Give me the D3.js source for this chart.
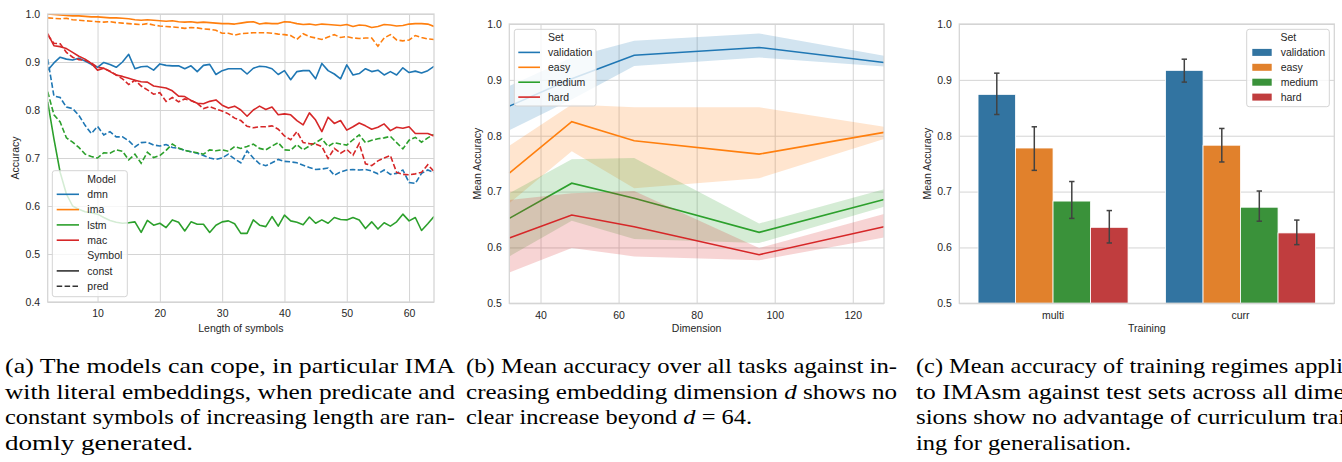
<!DOCTYPE html>
<html>
<head>
<meta charset="utf-8">
<script src="https://cdn.jsdelivr.net/npm/d3@7"></script>
<style>
  body { margin: 0; background: #fff; }
  svg { display: block; font-family: "Liberation Sans", Arial, sans-serif; }
  .tick text { fill: #262626; font-size: 10.5px; }
  .lab { fill: #262626; font-size: 10.5px; }
  .cap { font-family: "Liberation Serif", Tinos, "Times New Roman", Times, serif; font-size: 21.5px; fill: #000; }
</style>
</head>
<body>
<svg id="fig" width="1342" height="462"></svg>
<script>
// ---------- panel (a): accuracy vs length of symbols ----------
const lengths = d3.range(2, 65);
const dmnConst = [0.883,0.898,0.910,0.906,0.904,0.908,0.902,0.895,0.889,0.899,0.895,0.889,0.900,0.916,0.886,0.890,0.891,0.883,0.896,0.893,0.892,0.892,0.886,0.892,0.880,0.893,0.895,0.874,0.882,0.886,0.886,0.886,0.875,0.887,0.891,0.890,0.886,0.874,0.882,0.863,0.880,0.882,0.882,0.865,0.897,0.882,0.875,0.865,0.894,0.873,0.876,0.886,0.880,0.883,0.873,0.880,0.873,0.888,0.878,0.881,0.877,0.882,0.891];
const dmnPred = [0.906,0.829,0.826,0.806,0.803,0.789,0.768,0.751,0.766,0.748,0.755,0.744,0.744,0.736,0.723,0.732,0.733,0.727,0.725,0.728,0.722,0.720,0.716,0.713,0.710,0.705,0.700,0.697,0.700,0.708,0.698,0.690,0.715,0.700,0.688,0.684,0.690,0.697,0.693,0.692,0.690,0.685,0.680,0.676,0.677,0.679,0.664,0.671,0.675,0.676,0.675,0.676,0.673,0.667,0.675,0.666,0.668,0.675,0.649,0.647,0.668,0.675,0.670];
const imaConst = [1.000,0.999,0.998,0.997,0.996,0.996,0.995,0.994,0.994,0.993,0.992,0.992,0.991,0.990,0.988,0.987,0.988,0.987,0.986,0.985,0.986,0.984,0.983,0.984,0.982,0.983,0.982,0.981,0.980,0.980,0.979,0.981,0.983,0.984,0.979,0.981,0.980,0.980,0.984,0.983,0.980,0.978,0.979,0.977,0.979,0.978,0.977,0.976,0.978,0.974,0.977,0.976,0.972,0.974,0.978,0.977,0.975,0.976,0.979,0.980,0.980,0.979,0.974];
const imaPred = [0.992,0.991,0.990,0.991,0.988,0.987,0.986,0.985,0.984,0.983,0.984,0.982,0.981,0.980,0.979,0.978,0.980,0.977,0.975,0.974,0.973,0.972,0.970,0.972,0.971,0.969,0.968,0.966,0.960,0.960,0.956,0.959,0.960,0.961,0.961,0.961,0.960,0.958,0.957,0.955,0.947,0.959,0.953,0.950,0.947,0.952,0.957,0.951,0.953,0.950,0.949,0.950,0.950,0.933,0.950,0.957,0.946,0.944,0.946,0.955,0.951,0.948,0.947];
const lstmConst = [0.817,0.740,0.670,0.625,0.600,0.593,0.588,0.586,0.583,0.576,0.570,0.566,0.564,0.565,0.567,0.545,0.570,0.560,0.564,0.555,0.571,0.566,0.548,0.567,0.562,0.562,0.545,0.560,0.567,0.569,0.563,0.543,0.543,0.571,0.560,0.557,0.578,0.558,0.581,0.569,0.566,0.561,0.577,0.564,0.571,0.564,0.576,0.572,0.571,0.576,0.571,0.553,0.567,0.552,0.565,0.558,0.567,0.583,0.569,0.576,0.549,0.563,0.578];
const lstmPred = [0.838,0.790,0.775,0.742,0.733,0.722,0.708,0.703,0.700,0.711,0.710,0.717,0.714,0.696,0.708,0.689,0.712,0.701,0.705,0.716,0.729,0.721,0.716,0.713,0.711,0.708,0.717,0.715,0.717,0.714,0.724,0.720,0.724,0.729,0.720,0.717,0.725,0.732,0.717,0.716,0.728,0.717,0.725,0.732,0.740,0.724,0.732,0.729,0.727,0.738,0.748,0.732,0.737,0.740,0.742,0.745,0.732,0.719,0.737,0.743,0.733,0.742,0.749];
const macConst = [0.959,0.934,0.932,0.928,0.920,0.912,0.906,0.897,0.883,0.887,0.880,0.873,0.870,0.866,0.862,0.859,0.858,0.850,0.848,0.846,0.840,0.829,0.828,0.820,0.814,0.813,0.818,0.821,0.810,0.804,0.808,0.800,0.787,0.800,0.808,0.801,0.806,0.790,0.792,0.790,0.778,0.769,0.794,0.779,0.755,0.785,0.772,0.778,0.758,0.765,0.773,0.767,0.760,0.764,0.771,0.757,0.764,0.762,0.765,0.751,0.751,0.751,0.746];
const macPred = [0.956,0.939,0.938,0.920,0.910,0.905,0.904,0.898,0.889,0.887,0.881,0.873,0.865,0.853,0.862,0.850,0.842,0.833,0.836,0.818,0.826,0.817,0.823,0.820,0.814,0.803,0.807,0.802,0.798,0.792,0.783,0.778,0.766,0.763,0.765,0.765,0.767,0.760,0.746,0.738,0.755,0.732,0.730,0.729,0.724,0.699,0.720,0.710,0.718,0.706,0.730,0.688,0.684,0.694,0.700,0.705,0.670,0.666,0.665,0.667,0.670,0.686,0.672];
const models = ["dmn", "ima", "lstm", "mac"];

// ---------- panel (b): mean accuracy vs dimension ----------
const dims = [32, 48, 64, 96, 128];
const setNames = ["validation", "easy", "medium", "hard"];
const validationMean = [0.853, 0.902, 0.944, 0.958, 0.931];
const validationLo   = [0.810, 0.865, 0.925, 0.940, 0.924];
const validationHi   = [0.889, 0.940, 0.970, 0.983, 0.943];
const easyMean = [0.733, 0.825, 0.791, 0.767, 0.806];
const easyLo   = [0.679, 0.772, 0.706, 0.724, 0.794];
const easyHi   = [0.782, 0.856, 0.851, 0.851, 0.816];
const mediumMean = [0.652, 0.715, 0.688, 0.627, 0.686];
const mediumLo   = [0.584, 0.648, 0.615, 0.608, 0.673];
const mediumHi   = [0.697, 0.758, 0.760, 0.643, 0.704];
const hardMean = [0.617, 0.658, 0.637, 0.587, 0.637];
const hardLo   = [0.555, 0.599, 0.584, 0.577, 0.618];
const hardHi   = [0.685, 0.697, 0.701, 0.599, 0.660];

// ---------- panel (c): training regimes ----------
const trainings = ["multi", "curr"];
const multiMean = [0.874, 0.778, 0.683, 0.636];
const multiLo   = [0.838, 0.738, 0.652, 0.608];
const multiHi   = [0.912, 0.816, 0.718, 0.666];
const currMean  = [0.917, 0.783, 0.672, 0.626];
const currLo    = [0.896, 0.753, 0.647, 0.605];
const currHi    = [0.937, 0.813, 0.701, 0.649];

const lineColors = ["#1f77b4", "#ff7f0e", "#2ca02c", "#d62728"];
const barColors = ["#3274a1", "#e1812c", "#3a923a", "#c03d3e"];
const gridColor = "#d4d4d4";

const svg = d3.select("#fig");

// axes + grid for one panel
function frame(left, top, right, bottom, x, y, yTicks, xTicks) {
  const w = right - left, h = bottom - top;
  const g = svg.append("g").attr("transform", `translate(${left},${top})`);
  g.append("g")
    .call(d3.axisLeft(y).tickValues(yTicks).tickFormat(d3.format(".1f")).tickSize(-w).tickPadding(7.5));
  const xa = xTicks ? d3.axisBottom(x).tickValues(xTicks).tickSize(-h).tickPadding(8)
                    : d3.axisBottom(x).tickSize(0).tickPadding(8);
  g.append("g").attr("class", "xax").attr("transform", `translate(0,${h})`).call(xa);
  g.selectAll(".domain").remove();
  g.selectAll(".tick line").attr("stroke", gridColor).attr("stroke-width", 1);
  g.selectAll(".tick text").attr("font-family", null).attr("font-size", null);
  return g;
}
function spines(g, w, h) {
  g.append("rect").attr("width", w).attr("height", h)
    .attr("fill", "none").attr("stroke", gridColor).attr("stroke-width", 1.25);
}
function axisLabels(xl, xc, yl, yx, yc) {
  svg.append("text").attr("class", "lab").attr("x", xc).attr("y", 332)
    .attr("text-anchor", "middle").text(xl);
  svg.append("text").attr("class", "lab").attr("text-anchor", "middle")
    .attr("transform", `translate(${yx},${yc}) rotate(-90)`).attr("dy", "0.35em").text(yl);
}
function legendBox(x0, y0, x1, y1) {
  return svg.append("rect").attr("x", x0).attr("y", y0).attr("width", x1 - x0).attr("height", y1 - y0)
    .attr("rx", 2.5).attr("fill", "#fff").attr("fill-opacity", 0.8)
    .attr("stroke", gridColor).attr("stroke-width", 1);
}

// ===== (a) =====
{
  const L = 47.7, T = 14, R = 434, B = 302;
  const x = d3.scaleLinear().domain([2, 64]).range([0, R - L]);
  const y = d3.scaleLinear().domain([0.4, 1.0]).range([B - T, 0]);
  const g = frame(L, T, R, B, x, y, [0.4, 0.5, 0.6, 0.7, 0.8, 0.9, 1.0], [10, 20, 30, 40, 50, 60]);
  g.append("clipPath").attr("id", "clipA").append("rect").attr("width", R - L).attr("height", B - T);
  const series = [
    [dmnConst, dmnPred], [imaConst, imaPred], [lstmConst, lstmPred], [macConst, macPred]
  ];
  const line = d3.line().x((d, i) => x(lengths[i])).y(d => y(d));
  const lg = g.append("g").attr("clip-path", "url(#clipA)");
  series.forEach((s, k) => {
    lg.append("path").attr("d", line(s[0])).attr("fill", "none")
      .attr("stroke", lineColors[k]).attr("stroke-width", 1.6).attr("stroke-linejoin", "round");
    lg.append("path").attr("d", line(s[1])).attr("fill", "none")
      .attr("stroke", lineColors[k]).attr("stroke-width", 1.6).attr("stroke-dasharray", "5.5,2.4");
  });
  spines(g, R - L, B - T);
  axisLabels("Length of symbols", (L + R) / 2, "Accuracy", 15.5, (T + B) / 2);

  legendBox(52.3, 170.7, 127.3, 296.7);
  const rows = [
    { t: "Model", y: 179 },
    { t: models[0], y: 194.3, c: lineColors[0] },
    { t: models[1], y: 209.6, c: lineColors[1] },
    { t: models[2], y: 224.9, c: lineColors[2] },
    { t: models[3], y: 240.2, c: lineColors[3] },
    { t: "Symbol", y: 255.6 },
    { t: "const", y: 270.9, c: "#333", dash: null },
    { t: "pred", y: 286.2, c: "#333", dash: "5.5,2.4" }
  ];
  rows.forEach(r => {
    if (r.c) svg.append("line").attr("x1", 56.7).attr("x2", 79).attr("y1", r.y).attr("y2", r.y)
      .attr("stroke", r.c).attr("stroke-width", 1.6).attr("stroke-dasharray", r.dash || null);
    svg.append("text").attr("class", "lab").attr("x", 87.3).attr("y", r.y).attr("dy", "0.35em").text(r.t);
  });
}

// ===== (b) =====
{
  const L = 509.3, T = 24, R = 884, B = 303.3;
  const x = d3.scaleLinear().domain([32, 128]).range([0, R - L]);
  const y = d3.scaleLinear().domain([0.5, 1.0]).range([B - T, 0]);
  const g = frame(L, T, R, B, x, y, [0.5, 0.6, 0.7, 0.8, 0.9, 1.0], [40, 60, 80, 100, 120]);
  const groups = [
    [validationMean, validationLo, validationHi],
    [easyMean, easyLo, easyHi],
    [mediumMean, mediumLo, mediumHi],
    [hardMean, hardLo, hardHi]
  ];
  const area = d3.area().x((d, i) => x(dims[i])).y0(d => y(d[0])).y1(d => y(d[1]));
  const line = d3.line().x((d, i) => x(dims[i])).y(d => y(d));
  groups.forEach((s, k) => {
    g.append("path").attr("d", area(s[1].map((lo, i) => [lo, s[2][i]])))
      .attr("fill", lineColors[k]).attr("fill-opacity", 0.2).attr("stroke", "none");
    g.append("path").attr("d", line(s[0])).attr("fill", "none")
      .attr("stroke", lineColors[k]).attr("stroke-width", 1.6);
  });
  spines(g, R - L, B - T);
  axisLabels("Dimension", (L + R) / 2, "Mean Accuracy", 477, (T + B) / 2);

  legendBox(514.3, 29.3, 596, 106);
  svg.append("text").attr("class", "lab").attr("x", 548).attr("y", 37.7).attr("dy", "0.35em").text("Set");
  setNames.forEach((n, k) => {
    const yy = 52.4 + k * 14.9;
    svg.append("line").attr("x1", 518.3).attr("x2", 540).attr("y1", yy).attr("y2", yy)
      .attr("stroke", lineColors[k]).attr("stroke-width", 1.6);
    svg.append("text").attr("class", "lab").attr("x", 548).attr("y", yy).attr("dy", "0.35em").text(n);
  });
}

// ===== (c) =====
{
  const L = 959.3, T = 24, R = 1334.3, B = 303.3;
  const x = d3.scaleBand().domain(trainings).range([0, R - L]).paddingInner(0.2).paddingOuter(0.1);
  const xs = d3.scaleBand().domain(setNames).range([0, x.bandwidth()]);
  const y = d3.scaleLinear().domain([0.5, 1.0]).range([B - T, 0]);
  const g = frame(L, T, R, B, x, y, [0.5, 0.6, 0.7, 0.8, 0.9, 1.0], null);
  const table = [
    { t: "multi", mean: multiMean, lo: multiLo, hi: multiHi },
    { t: "curr", mean: currMean, lo: currLo, hi: currHi }
  ];
  table.forEach(row => {
    const gg = g.append("g").attr("transform", `translate(${x(row.t)},0)`);
    setNames.forEach((n, k) => {
      gg.append("rect").attr("x", xs(n)).attr("width", xs.bandwidth())
        .attr("y", y(row.mean[k])).attr("height", y(0.5) - y(row.mean[k]))
        .attr("fill", barColors[k]).attr("stroke", "#fff").attr("stroke-width", 0.8);
      const cx = xs(n) + xs.bandwidth() / 2;
      gg.append("line").attr("x1", cx).attr("x2", cx).attr("y1", y(row.lo[k])).attr("y2", y(row.hi[k]))
        .attr("stroke", "#424242").attr("stroke-width", 1.5);
      [row.lo[k], row.hi[k]].forEach(v => {
        gg.append("line").attr("x1", cx - 2.7).attr("x2", cx + 2.7).attr("y1", y(v)).attr("y2", y(v))
          .attr("stroke", "#424242").attr("stroke-width", 1.5);
      });
    });
  });
  spines(g, R - L, B - T);
  axisLabels("Training", (L + R) / 2, "Mean Accuracy", 927, (T + B) / 2);

  legendBox(1246.7, 29.3, 1329.3, 106.7);
  svg.append("text").attr("class", "lab").attr("x", 1288.3).attr("y", 37.7).attr("dy", "0.35em")
    .attr("text-anchor", "middle").text("Set");
  setNames.forEach((n, k) => {
    const yy = 52.4 + k * 14.9;
    svg.append("rect").attr("x", 1252.3).attr("y", yy - 3.5).attr("width", 19.4).attr("height", 7)
      .attr("fill", barColors[k]);
    svg.append("text").attr("class", "lab").attr("x", 1280.7).attr("y", yy).attr("dy", "0.35em").text(n);
  });
}

// ===== captions =====
const captionA = ["(a) The models can cope, in particular IMA", "with literal embeddings, when predicate and",
  "constant symbols of increasing length are ran-", "domly generated."];
const captionB = ["(b) Mean accuracy over all tasks against in-", "creasing embedding dimension |d| shows no",
  "clear increase beyond |d| = 64."];
const captionC = ["(c) Mean accuracy of training regimes applied", "to IMAsm against test sets across all dimen-",
  "sions show no advantage of curriculum train-", "ing for generalisation."];
const capCols = [
  { lines: captionA, x: 5, w: 450, last: 188 },
  { lines: captionB, x: 466, w: 431, last: 286 },
  { lines: captionC, x: 916, w: 450, last: 215 }
];
capCols.forEach(col => {
  col.lines.forEach((ln, i) => {
    const t = svg.append("text").attr("class", "cap").attr("x", col.x).attr("y", 373 + i * 25.7)
      .attr("textLength", i === col.lines.length - 1 ? col.last : col.w)
      .attr("lengthAdjust", "spacingAndGlyphs");
    ln.split("|").forEach((part, j) => {
      t.append("tspan").attr("font-style", j % 2 ? "italic" : null).text(part);
    });
  });
});
</script>
</body>
</html>
